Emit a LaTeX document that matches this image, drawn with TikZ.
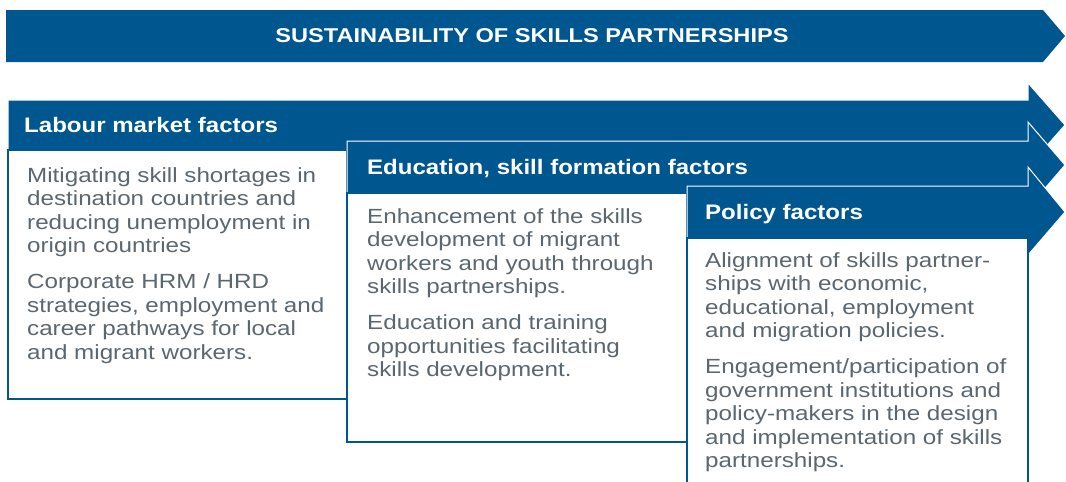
\documentclass[tikz,border=0pt]{standalone}
\usepackage{fontspec}
\setmainfont{Liberation Sans}
\newfontfamily\bodyfont[FakeStretch=1.18]{Liberation Sans}
\newfontfamily\headfont[FakeStretch=1.145]{Liberation Sans}
\newfontfamily\titlefont[FakeStretch=1.18]{Liberation Sans}
\definecolor{ilo}{HTML}{00568F}
\definecolor{txt}{HTML}{5B6770}
\tikzset{
  arr/.style={fill=ilo, draw=white, line width=1pt, line join=miter},
  box/.style={draw=ilo, line width=1.3pt, fill=white},
  bodytext/.style={anchor=north west, inner sep=0pt, align=left, text=txt,
    font=\bodyfont\fontsize{20.5}{23.6}\selectfont},
  headtext/.style={anchor=base west, inner sep=0pt, text=white,
    font=\headfont\bfseries\fontsize{21}{24}\selectfont},
  titletext/.style={inner sep=0pt, text=white, font=\titlefont\bfseries\fontsize{20}{24}\selectfont},
}
\begin{document}
\begin{tikzpicture}[x=1pt,y=-1pt]
\useasboundingbox (0,0) rectangle (1066,482);
\clip (0,0) rectangle (1066,482);
% banner
\fill[ilo] (6,10) -- (1043,10) -- (1065,36) -- (1043,62) -- (6,62) -- cycle;
\node[titletext] (title) at (532,36) {SUSTAINABILITY OF SKILLS PARTNERSHIPS};
% labour
\draw[arr] (8,100) -- (1028,100) -- (1028,83) -- (1065,125) -- (1028,167) -- (1028,150) -- (8,150) -- cycle;
\draw[box] (8,150) rectangle (347,399);
\node[headtext] (lh) at (24,132) {Labour market factors};
\node[bodytext] (lt) at (27,167) {Mitigating skill shortages in\\destination countries and\\reducing unemployment in\\origin countries\\[12pt]Corporate HRM / HRD\\strategies, employment and\\career pathways for local\\and migrant workers.};
% education
\draw[arr] (347,141) -- (1028,141) -- (1028,122) -- (1065,165) -- (1028,208) -- (1028,193) -- (347,193) -- cycle;
\draw[box] (347,193) rectangle (687,442);
\node[headtext] (eh) at (367,174) {Education, skill formation factors};
\node[bodytext] (et) at (367,208) {Enhancement of the skills\\development of migrant\\workers and youth through\\skills partnerships.\\[12pt]Education and training\\opportunities facilitating\\skills development.};
% policy
\draw[arr] (687,186) -- (1028,186) -- (1028,167) -- (1065,212) -- (1028,255) -- (1028,238) -- (687,238) -- cycle;
\draw[box] (687,238) rectangle (1028,500);
\node[headtext] (ph) at (705,219) {Policy factors};
\node[bodytext] (pt) at (705,252) {Alignment of skills partner-\\ships with economic,\\educational, employment\\and migration policies.\\[12pt]Engagement/participation of\\government institutions and\\policy-makers in the design\\and implementation of skills\\partnerships.};
\end{tikzpicture}
\end{document}
